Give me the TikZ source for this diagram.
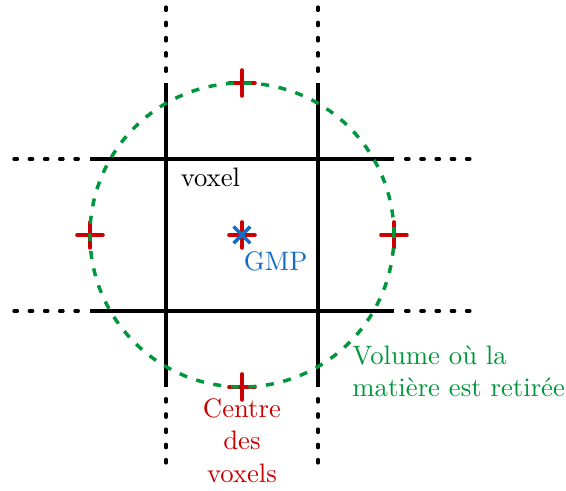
\documentclass[tikz,border=0pt]{standalone}
\usepackage{tikz}
\usetikzlibrary{positioning}
\definecolor{crossred}{RGB}{204,0,0}
\definecolor{gmpblue}{RGB}{20,110,200}
\definecolor{volgreen}{RGB}{0,150,60}

\begin{document}
\begin{tikzpicture}[x=2cm, y=2cm,
    gridline/.style={line width=1.2pt},
    gridext/.style={line width=1.2pt, line cap=round, dash pattern=on 1.3pt off 4.4pt},
    crossmark/.style={crossred, line width=1.4pt, line cap=round},
    volline/.style={volgreen, line width=1.3pt, dash pattern=on 3pt off 3.6pt}]
    \useasboundingbox (-1.592,-1.678) rectangle (2.132,1.546);

    % grid of voxels
    \foreach \p in {-0.5,0.5} {
        \draw[gridline] (\p,-1) -- (\p,1);
        \draw[gridline] (-1,\p) -- (1,\p);
        \draw[gridext] (\p,1.5) -- (\p,1);
        \draw[gridext] (\p,-1.5) -- (\p,-1);
        \draw[gridext] (-1.5,\p) -- (-1,\p);
        \draw[gridext] (1.5,\p) -- (1,\p);
    }

    % voxel centres
    \coordinate (ctop) at (0,1);
    \coordinate (cleft) at (-1,0);
    \coordinate (cright) at (1,0);
    \coordinate (cbottom) at (0,-1);
    \coordinate (gmp) at (0,0);
    \foreach \c in {ctop,cleft,cright,cbottom,gmp} {
        \draw[crossmark] (\c) ++(-0.085,0) -- ++(0.17,0) (\c) ++(0,-0.085) -- ++(0,0.17);
    }
    \draw[gmpblue, line width=1.3pt] (gmp) ++(-0.055,-0.055) -- ++(0.11,0.11)
        (gmp) ++(-0.055,0.055) -- ++(0.11,-0.11);

    % removed volume
    \draw[volline] (gmp) circle (1);

    \node (voxel) [anchor=north west, xshift=2pt] at (-0.5,0.5) {voxel};
    \node (gmplabel) [anchor=north west, text=gmpblue] at (-0.05,-0.05) {GMP};
    \node (centres) [anchor=north, text=crossred, align=center, yshift=-1pt] at (cbottom) {Centre\\des\\voxels};
    \node (volume) [anchor=north west, text=volgreen, align=left] at (0.665,-0.67) {Volume où la\\matière est retirée};
\end{tikzpicture}
\end{document}
